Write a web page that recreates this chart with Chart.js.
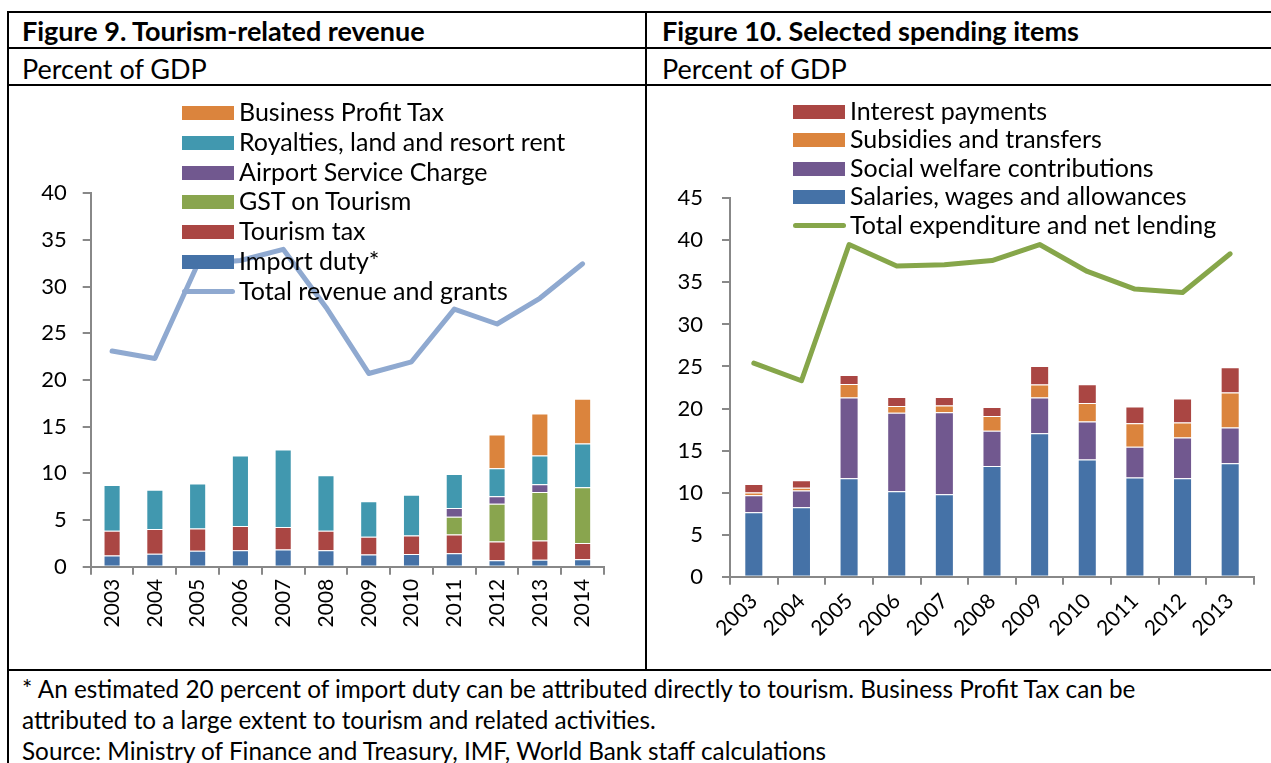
<!DOCTYPE html>
<html>
<head>
<meta charset="utf-8">
<script src="https://cdn.jsdelivr.net/npm/chart.js@4.4.1/dist/chart.umd.min.js"></script>
<style>
   body { margin: 0; background: #fff; font-family: Lato, 'Open Sans', sans-serif; color: #000; }
   #page { position: relative; width: 1271px; height: 763px; overflow: hidden; }
   .rule { position: absolute; background: #000; }
   .txt { position: absolute; white-space: nowrap; line-height: 1; }
   .head { font-weight: bold; font-size: 27px; }
   .sub { font-size: 27px; }
   .note { font-size: 24.3px; left: 22px; }
   .box { position: absolute; }
   .legend { position: absolute; font-size: 25px; }
   .legend .row { position: absolute; left: 0; height: 0; }
   .legend .sw { position: absolute; left: 0; width: 52px; height: 14px; top: -7px; }
   .legend .ln { position: absolute; left: 0; width: 53px; height: 5px; top: -3px; border-radius: 3px; }
   .legend .lab { position: absolute; left: 57px; top: -14px; white-space: nowrap; line-height: 1; }
</style>
</head>
<body>
<div id="page">
   <div class="rule" style="left:7px; top:11px; width:1264px; height:2px;"></div>
   <div class="rule" style="left:7px; top:47px; width:1264px; height:2px;"></div>
   <div class="rule" style="left:7px; top:84px; width:1264px; height:1.5px;"></div>
   <div class="rule" style="left:7px; top:669px; width:1264px; height:2px;"></div>
   <div class="rule" style="left:7px; top:11px; width:2px; height:752px;"></div>
   <div class="rule" style="left:645px; top:11px; width:2px; height:659px;"></div>

   <div class="txt head" style="left:22px; top:17px;">Figure 9. Tourism-related revenue</div>
   <div class="txt sub" style="left:22px; top:55px;">Percent of GDP</div>
   <div class="txt head" style="left:662px; top:17px;">Figure 10. Selected spending items</div>
   <div class="txt sub" style="left:662px; top:55px;">Percent of GDP</div>

   <div class="box" style="left:9px; top:87px; width:636px; height:582px;"><canvas id="graph9"></canvas></div>
   <div class="box" style="left:648px; top:87px; width:623px; height:582px;"><canvas id="graph10"></canvas></div>

   <div class="legend" id="legend9" style="left:182px; top:0;"></div>
   <div class="legend" id="legend10" style="left:793px; top:0;"></div>

   <div class="txt note" style="top:677px;">* An estimated 20 percent of import duty can be attributed directly to tourism. Business Profit Tax can be</div>
   <div class="txt note" style="top:708px;">attributed to a large extent to tourism and related activities.</div>
   <div class="txt note" style="top:739px;">Source: Ministry of Finance and Treasury, IMF, World Bank staff calculations</div>
</div>

<script>
// Figure 9 data (percent of GDP)
const years9 = ['2003', '2004', '2005', '2006', '2007', '2008', '2009', '2010', '2011', '2012', '2013', '2014'];
const importDuty = [1.2, 1.4, 1.7, 1.75, 1.85, 1.75, 1.3, 1.35, 1.45, 0.7, 0.75, 0.8];
const tourismTax = [2.65, 2.65, 2.4, 2.6, 2.4, 2.1, 1.9, 2.0, 2.0, 2.0, 2.05, 1.75];
const gstTourism = [0, 0, 0, 0, 0, 0, 0, 0, 1.9, 4.05, 5.2, 5.95];
const airportCharge = [0, 0, 0, 0, 0, 0, 0, 0, 0.93, 0.8, 0.82, 0];
const royalties = [4.9, 4.2, 4.8, 7.55, 8.3, 5.95, 3.8, 4.35, 3.65, 3.0, 3.1, 4.7];
const businessProfitTax = [0, 0, 0, 0, 0, 0, 0, 0, 0, 3.6, 4.5, 4.8];
const totalRevenue = [23.1, 22.3, 32.4, 32.8, 34.0, 27.8, 20.7, 21.95, 27.6, 26.0, 28.75, 32.45];
const ticks9 = [0, 5, 10, 15, 20, 25, 30, 35, 40];

// Figure 10 data (percent of GDP)
const years10 = ['2003', '2004', '2005', '2006', '2007', '2008', '2009', '2010', '2011', '2012', '2013'];
const salaries = [7.65, 8.25, 11.7, 10.15, 9.8, 13.15, 17.05, 13.95, 11.8, 11.7, 13.5];
const socialWelfare = [2.05, 2.0, 9.6, 9.35, 9.75, 4.2, 4.25, 4.5, 3.65, 4.85, 4.25];
const subsidies = [0.32, 0.32, 1.63, 0.8, 0.8, 1.75, 1.55, 2.2, 2.8, 1.8, 4.15];
const interest = [1.0, 0.9, 1.07, 1.07, 1.03, 1.07, 2.2, 2.25, 2.0, 2.85, 3.0];
const totalExpenditure = [25.4, 23.3, 39.5, 36.95, 37.1, 37.6, 39.5, 36.3, 34.2, 33.8, 38.4];
const ticks10 = [0, 5, 10, 15, 20, 25, 30, 35, 40, 45];

const BLUE = '#4572a7', RED = '#aa4643', GREEN = '#89a54e', PURPLE = '#71588f', TEAL = '#4198af', ORANGE = '#db843d';
const LINE9 = '#8fa9d0', LINE10 = '#86a64a';
const AXIS = '#888888';

Chart.defaults.font.family = 'Lato, "Open Sans", sans-serif';
Chart.defaults.color = '#000';
Chart.defaults.animation = false;

function bar(label, data, color) {
   return {
      type: 'bar', label: label, data: data, stack: 'bars',
      backgroundColor: color, borderColor: 'rgba(255,255,255,0.45)', borderWidth: 1,
      barPercentage: 0.4, categoryPercentage: 1
   };
}

function line(label, data, color) {
   return {
      type: 'line', label: label, data: data, stack: 'line',
      borderColor: color, backgroundColor: color, borderWidth: 5,
      pointRadius: 0, borderJoinStyle: 'round', borderCapStyle: 'round', tension: 0
   };
}

function axes(max, tickVals, yWidth, xHeight, rotation, yPad) {
   return {
      x: {
         stacked: true,
         border: { color: AXIS, width: 2 },
         grid: { display: true, drawOnChartArea: false, drawTicks: true, tickLength: 8, color: AXIS, lineWidth: 2, offset: true },
         ticks: { font: { size: 21 }, minRotation: rotation, maxRotation: rotation, autoSkip: false, padding: 4 },
         afterFit: function (scale) { scale.height = xHeight; }
      },
      y: {
         stacked: true, min: 0, max: max,
         border: { color: AXIS, width: 2 },
         grid: { display: true, drawOnChartArea: false, drawTicks: true, tickLength: 8, color: AXIS, lineWidth: 2 },
         afterBuildTicks: function (scale) { scale.ticks = tickVals.map(v => ({ value: v })); },
         ticks: { font: { size: 22 }, padding: yPad },
         afterFit: function (scale) { scale.width = yWidth; }
      }
   };
}

// Figure 9
const graph9 = document.getElementById('graph9');
new Chart(graph9, {
   data: {
      labels: years9,
      datasets: [
         line('Total revenue and grants', totalRevenue, LINE9),
         bar('Import duty*', importDuty, BLUE),
         bar('Tourism tax', tourismTax, RED),
         bar('GST on Tourism', gstTourism, GREEN),
         bar('Airport Service Charge', airportCharge, PURPLE),
         bar('Royalties, land and resort rent', royalties, TEAL),
         bar('Business Profit Tax', businessProfitTax, ORANGE)
      ]
   },
   options: {
      responsive: true,
      maintainAspectRatio: false,
      layout: { padding: { left: 11.7, right: 41, top: 106.3, bottom: 12.3 } },
      scales: axes(40, ticks9, 70, 90, 90, 16),
      plugins: { legend: { display: false }, tooltip: { enabled: false } }
   }
});

// Figure 10
const graph10 = document.getElementById('graph10');
new Chart(graph10, {
   data: {
      labels: years10,
      datasets: [
         line('Total expenditure and net lending', totalExpenditure, LINE10),
         bar('Salaries, wages and allowances', salaries, BLUE),
         bar('Social welfare contributions', socialWelfare, PURPLE),
         bar('Subsidies and transfers', subsidies, ORANGE),
         bar('Interest payments', interest, RED)
      ]
   },
   options: {
      responsive: true,
      maintainAspectRatio: false,
      layout: { padding: { left: 12, right: 17, top: 111.3, bottom: 12.3 } },
      scales: axes(45, ticks10, 70, 80, 45, 19),
      plugins: { legend: { display: false }, tooltip: { enabled: false } }
   }
});

// legends drawn as html on top of the plots (they overlap the line, like the original)
function legend(id, items, firstY, step) {
   const box = document.getElementById(id);
   items.forEach(function (it, i) {
      const row = document.createElement('div');
      row.className = 'row';
      row.style.top = (firstY + i * step) + 'px';
      const mark = document.createElement('div');
      mark.className = it.line ? 'ln' : 'sw';
      mark.style.background = it.color;
      const lab = document.createElement('div');
      lab.className = 'lab';
      lab.textContent = it.label;
      row.appendChild(mark);
      row.appendChild(lab);
      box.appendChild(row);
   });
}

legend('legend9', [
   { label: 'Business Profit Tax', color: ORANGE },
   { label: 'Royalties, land and resort rent', color: TEAL },
   { label: 'Airport Service Charge', color: PURPLE },
   { label: 'GST on Tourism', color: GREEN },
   { label: 'Tourism tax', color: RED },
   { label: 'Import duty*', color: BLUE },
   { label: 'Total revenue and grants', color: LINE9, line: true }
], 113, 29.8);

legend('legend10', [
   { label: 'Interest payments', color: RED },
   { label: 'Subsidies and transfers', color: ORANGE },
   { label: 'Social welfare contributions', color: PURPLE },
   { label: 'Salaries, wages and allowances', color: BLUE },
   { label: 'Total expenditure and net lending', color: LINE10, line: true }
], 111.7, 28.5);
</script>
</body>
</html>
